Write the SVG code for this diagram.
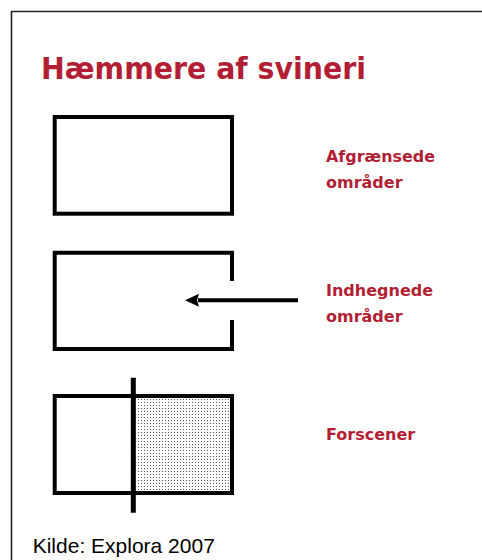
<svg xmlns="http://www.w3.org/2000/svg" width="482" height="560" viewBox="0 0 482 560">
<style>
.title{font-family:"DejaVu Sans","Liberation Sans",sans-serif;font-weight:bold;font-size:31px;fill:#b21f35}
.lbl{font-family:"DejaVu Sans","Liberation Sans",sans-serif;font-weight:bold;font-size:16px;fill:#b21f35}
.src{font-family:"Liberation Sans",Arial,sans-serif;font-size:21px;fill:#000}
.wall{fill:none;stroke:#000;stroke-width:4}
</style>
<defs>
<pattern id="dots" width="3" height="3" patternUnits="userSpaceOnUse">
<rect width="3" height="3" fill="#fff"/>
<rect width="1" height="1" fill="#555"/>
</pattern>
<marker id="ah" viewBox="0 0 14 14" refX="1" refY="7" markerWidth="14" markerHeight="14" markerUnits="userSpaceOnUse" orient="auto">
<path d="M0,0.5 L14,7 L0,13.5 L2,7 Z" fill="#000"/>
</marker>
</defs>
<rect width="482" height="560" fill="#fff"/>
<path d="M11.5,560 V11.5 H482" fill="none" stroke="#222" stroke-width="1.6"/>
<text class="title" x="41" y="79" textLength="325" lengthAdjust="spacingAndGlyphs">Hæmmere af svineri</text>
<g id="afgraensede">
<rect class="wall" x="54.7" y="117" width="177.3" height="96.7"/>
<text class="lbl" x="326" y="161.5" textLength="109" lengthAdjust="spacingAndGlyphs">Afgrænsede</text>
<text class="lbl" x="326" y="187.5">områder</text>
</g>
<g id="indhegnede">
<path class="wall" d="M232,281 V252.7 H54.7 V349 H232 V320"/>
<text class="lbl" x="326" y="296">Indhegnede</text>
<text class="lbl" x="326" y="321.5">områder</text>
</g>
<g id="forscener">
<rect x="133" y="396" width="99" height="97" fill="url(#dots)"/>
<rect class="wall" x="54.7" y="396" width="177.3" height="97"/>
<line x1="133.3" y1="377.7" x2="133.3" y2="512.7" stroke="#000" stroke-width="5"/>
<text class="lbl" x="326" y="440">Forscener</text>
</g>
<g id="connectors">
<line x1="298" y1="300.3" x2="198" y2="300.3" stroke="#000" stroke-width="4" marker-end="url(#ah)"/>
</g>
<text class="src" x="32.7" y="553">Kilde: Explora 2007</text>
</svg>
